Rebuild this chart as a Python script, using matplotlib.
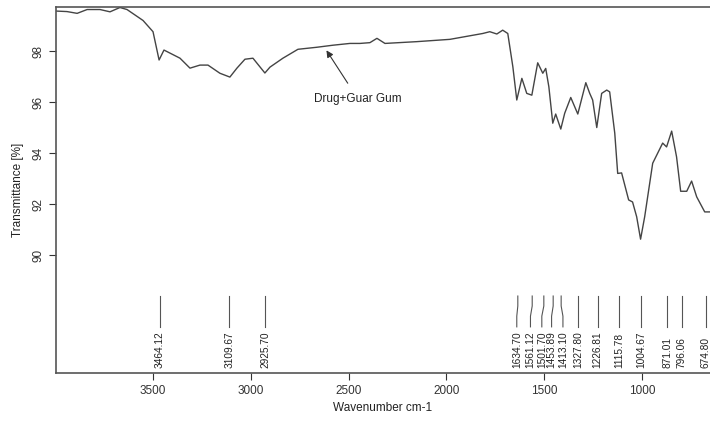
import matplotlib.pyplot as plt

plt.rcParams['font.family'] = ['Liberation Sans', 'DejaVu Sans']

# spectrum (wavenumber, transmittance)
wavenumber = [3996, 3940, 3888, 3837, 3771, 3720, 3669, 3633, 3551, 3500, 3469,
              3444, 3362, 3311, 3260, 3219, 3158, 3107, 3071, 3030, 2989, 2928,
              2902, 2836, 2759, 2662, 2580, 2493, 2442, 2391, 2355, 2314, 2151,
              1982, 1814, 1778, 1742, 1712, 1686, 1660, 1640, 1614, 1589, 1563,
              1533, 1507, 1492, 1476, 1456, 1441, 1415, 1395, 1364, 1328, 1287,
              1267, 1252, 1231, 1206, 1180, 1165, 1139, 1124, 1104, 1068, 1048,
              1027, 1007, 986, 945, 894, 874, 848, 823, 802, 771, 746, 720, 679,
              652]
transmittance = [99.57, 99.55, 99.48, 99.63, 99.63, 99.54, 99.71, 99.63, 99.2,
                 98.76, 97.65, 98.04, 97.72, 97.33, 97.45, 97.45, 97.13, 96.98,
                 97.33, 97.68, 97.72, 97.14, 97.37, 97.72, 98.07, 98.15, 98.23,
                 98.3, 98.3, 98.33, 98.5, 98.3, 98.37, 98.46, 98.69, 98.76, 98.67,
                 98.82, 98.69, 97.38, 96.08, 96.93, 96.34, 96.27, 97.54, 97.13,
                 97.32, 96.6, 95.17, 95.53, 94.94, 95.56, 96.18, 95.53, 96.76,
                 96.34, 96.08, 95.0, 96.34, 96.47, 96.4, 94.78, 93.2, 93.22,
                 92.16, 92.08, 91.5, 90.62, 91.5, 93.6, 94.39, 94.24, 94.86,
                 93.85, 92.5, 92.5, 92.9, 92.28, 91.69, 91.69]

peaks = [3464.12, 3109.67, 2925.70, 1634.70, 1561.12, 1501.70, 1453.89,
         1413.10, 1327.80, 1226.81, 1115.78, 1004.67, 871.01, 796.06, 674.80]
# where each label sits (spread a bit where peaks crowd together)
label_pos = [3464.12, 3109.67, 2925.70, 1640, 1570, 1512, 1462,
             1404, 1327.80, 1226.81, 1115.78, 1004.67, 871.01, 796.06, 674.80]

fig = plt.figure(figsize=(7.10, 4.23), dpi=100)
ax = fig.add_axes([0.0789, 0.1182, 0.9211, 0.8653])

ax.plot(wavenumber, transmittance, color='#444444', linewidth=1.0)

for p, lp in zip(peaks, label_pos):
    ax.plot([p, p, lp, lp], [88.39, 88.0, 87.6, 87.18], color='#555555',
            linewidth=0.8)
    ax.text(lp, 85.57, '%.2f' % p, rotation=90, ha='center', va='bottom',
            fontsize=7.3, color='#222222')

ax.annotate('Drug+Guar Gum', xy=(2621, 98.12), xytext=(2452, 96.12),
            ha='center', va='center', fontsize=8.5, color='#222222',
            arrowprops=dict(arrowstyle='-|>', color='#333333', lw=0.8,
                            mutation_scale=10, shrinkA=6))

ax.set_xlim(3996, 652)
ax.set_ylim(85.37, 99.73)
ax.set_xticks([3500, 3000, 2500, 2000, 1500, 1000])
ax.set_yticks([90, 92, 94, 96, 98])
ax.tick_params(axis='both', labelsize=8.5, colors='#333333', length=5)
for lab in ax.get_yticklabels():
    lab.set_rotation(90)
    lab.set_va('center')
ax.set_xlabel('Wavenumber cm-1', fontsize=8.5, color='#222222', labelpad=4)
ax.set_ylabel('Transmittance [%]', fontsize=8.5, color='#222222', labelpad=6)

ax.spines['right'].set_visible(False)
for s in ['left', 'top', 'bottom']:
    ax.spines[s].set_color('#555555')
    ax.spines[s].set_linewidth(1.2)

fig.savefig('out.png', dpi=100)
